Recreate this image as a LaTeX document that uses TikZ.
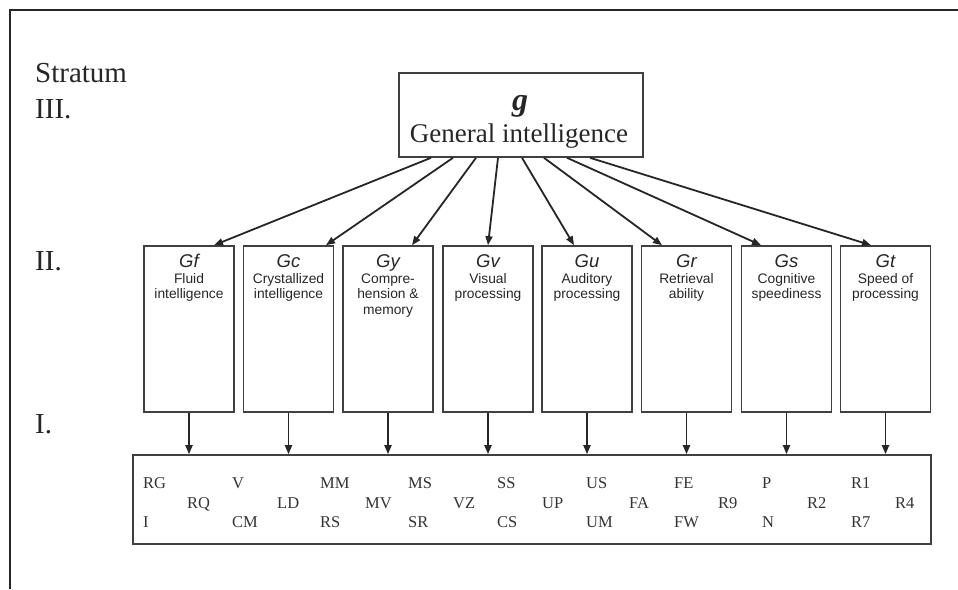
\documentclass[tikz,border=0pt]{standalone}
\usepackage{fontspec}
\setmainfont{Liberation Serif}
\setsansfont{Liberation Sans}
\usetikzlibrary{arrows.meta}
\begin{document}
\begin{tikzpicture}[x=1pt,y=-1pt,
  frameline/.style={line width=2.2pt, draw=black!85},
  boxst/.style={draw=black!75, line width=1.6pt, inner sep=0pt},
  arr/.style={draw=black!85, line width=1.8pt, -{Triangle[length=9pt,width=7pt]}},
  stratlab/.style={anchor=base west, font=\fontsize{29}{31}\selectfont, text=black!85, inner sep=0pt},
  glab/.style={anchor=base, font=\sffamily\itshape\fontsize{18.5}{20}\selectfont, text=black!85, inner sep=0pt},
  desc/.style={anchor=base, font=\sffamily\fontsize{13.8}{15.5}\selectfont, text=black!85, inner sep=0pt},
  lev/.style={anchor=base west, font=\fontsize{16.5}{18}\selectfont, text=black!80, inner sep=0pt}
]
\useasboundingbox (0,0) rectangle (958,589);
% frame (cropped)
\coordinate (fa) at (10,589);
\coordinate (fb) at (10,10);
\coordinate (fc) at (958,10);
\draw[frameline] (fa) -- (fb) -- (fc);

% stratum labels
\node[stratlab] (stratum) at (35,82) {Stratum};
\node[stratlab] (s3) at (35,118) {III.};
\node[stratlab] (s2) at (35,270) {II.};
\node[stratlab] (s1) at (35,433) {I.};

% g box
\node[boxst, minimum width=244pt, minimum height=84pt] (g) at (521,115) {};
\node[anchor=base, inner sep=0pt, font=\bfseries\itshape\fontsize{32}{34}\selectfont, text=black!85] (gsym) at (520,110) {g};
\node[anchor=base, inner sep=0pt, font=\fontsize{27}{29}\selectfont, text=black!85] (gtext) at (519,142) {General intelligence};

% stratum II boxes
\foreach \i/\cx in {1/189,2/288.5,3/388,4/488,5/587,6/686.5,7/786.5,8/885.5}{
  \node[boxst, minimum width=90pt, minimum height=166pt] (b\i) at (\cx,329) {};
}
\node[glab] (l1) at (189,267) {Gf};
\node[desc] (d1a) at (189,283) {Fluid};
\node[desc] (d1b) at (189,298.5) {intelligence};
\node[glab] (l2) at (288.5,267) {Gc};
\node[desc] (d2a) at (288.5,283) {Crystallized};
\node[desc] (d2b) at (288.5,298.5) {intelligence};
\node[glab] (l3) at (388,267) {Gy};
\node[desc] (d3a) at (388,283) {Compre-};
\node[desc] (d3b) at (388,298.5) {hension \&};
\node[desc] (d3c) at (388,314) {memory};
\node[glab] (l4) at (488,267) {Gv};
\node[desc] (d4a) at (488,283) {Visual};
\node[desc] (d4b) at (488,298.5) {processing};
\node[glab] (l5) at (587,267) {Gu};
\node[desc] (d5a) at (587,283) {Auditory};
\node[desc] (d5b) at (587,298.5) {processing};
\node[glab] (l6) at (686.5,267) {Gr};
\node[desc] (d6a) at (686.5,283) {Retrieval};
\node[desc] (d6b) at (686.5,298.5) {ability};
\node[glab] (l7) at (786.5,267) {Gs};
\node[desc] (d7a) at (786.5,283) {Cognitive};
\node[desc] (d7b) at (786.5,298.5) {speediness};
\node[glab] (l8) at (885.5,267) {Gt};
\node[desc] (d8a) at (885.5,283) {Speed of};
\node[desc] (d8b) at (885.5,298.5) {processing};

% level I box
\node[boxst, minimum width=798pt, minimum height=89pt] (L) at (532,499.5) {};
\node[lev] (c1) at (143,488) {RG};
\node[lev] (c2) at (143,527) {I};
\node[lev] (c3) at (187,508) {RQ};
\node[lev] (c4) at (232,488) {V};
\node[lev] (c5) at (232,527) {CM};
\node[lev] (c6) at (277,508) {LD};
\node[lev] (c7) at (320,488) {MM};
\node[lev] (c8) at (320,527) {RS};
\node[lev] (c9) at (365,508) {MV};
\node[lev] (c10) at (408,488) {MS};
\node[lev] (c11) at (408,527) {SR};
\node[lev] (c12) at (453,508) {VZ};
\node[lev] (c13) at (497,488) {SS};
\node[lev] (c14) at (497,527) {CS};
\node[lev] (c15) at (542,508) {UP};
\node[lev] (c16) at (586,488) {US};
\node[lev] (c17) at (586,527) {UM};
\node[lev] (c18) at (629,508) {FA};
\node[lev] (c19) at (674,488) {FE};
\node[lev] (c20) at (674,527) {FW};
\node[lev] (c21) at (718,508) {R9};
\node[lev] (c22) at (762,488) {P};
\node[lev] (c23) at (762,527) {N};
\node[lev] (c24) at (807,508) {R2};
\node[lev] (c25) at (851,488) {R1};
\node[lev] (c26) at (851,527) {R7};
\node[lev] (c27) at (895,508) {R4};

% arrows g -> stratum II
\draw[arr] ([xshift=-90pt]g.south) -- ([xshift=25pt]b1.north);
\draw[arr] ([xshift=-68pt]g.south) -- ([xshift=37.5pt]b2.north);
\draw[arr] ([xshift=-45pt]g.south) -- ([xshift=24pt]b3.north);
\draw[arr] ([xshift=-23pt]g.south) -- ([xshift=0pt]b4.north);
\draw[arr] ([xshift=1pt]g.south) -- ([xshift=-13pt]b5.north);
\draw[arr] ([xshift=23pt]g.south) -- ([xshift=-24.5pt]b6.north);
\draw[arr] ([xshift=46pt]g.south) -- ([xshift=-25.5pt]b7.north);
\draw[arr] ([xshift=69pt]g.south) -- ([xshift=-14.5pt]b8.north);

% arrows stratum II -> level I
\foreach \i in {1,...,8}{
  \draw[arr] (b\i.south) -- (b\i.south |- L.north);
}
\end{tikzpicture}
\end{document}
